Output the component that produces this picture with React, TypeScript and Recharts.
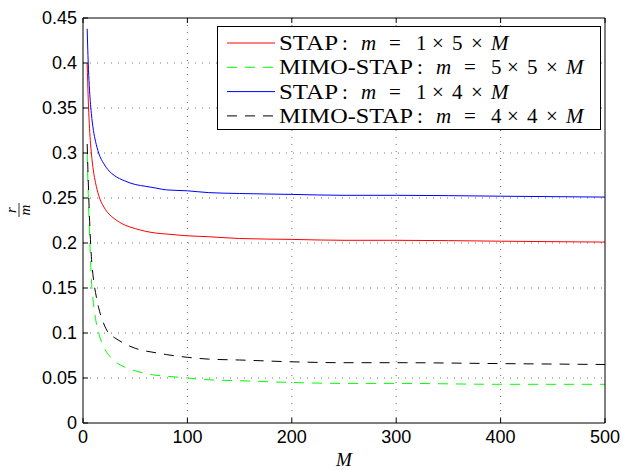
import {
  LineChart,
  Line,
  XAxis,
  YAxis,
  CartesianGrid,
  Legend,
} from "recharts";

// problem size M
const mValues = [4, 5, 6, 8, 10, 12, 15, 20, 25, 30, 40, 50, 60, 70, 80, 100, 120, 150, 200, 250, 300, 400, 500];

// r/m
const stap5 = [0.4, 0.36, 0.333, 0.3, 0.28, 0.267, 0.253, 0.24, 0.232, 0.227, 0.22, 0.216, 0.213, 0.211, 0.21, 0.208, 0.207, 0.205, 0.204, 0.203, 0.203, 0.202, 0.201];
const mimo5 = [0.3, 0.255, 0.22, 0.16, 0.133, 0.116, 0.1, 0.084, 0.075, 0.069, 0.062, 0.058, 0.055, 0.053, 0.052, 0.05, 0.048, 0.047, 0.045, 0.044, 0.044, 0.043, 0.043];
const stap4 = [0.438, 0.4, 0.375, 0.344, 0.325, 0.313, 0.3, 0.288, 0.28, 0.275, 0.269, 0.265, 0.263, 0.261, 0.259, 0.258, 0.256, 0.255, 0.254, 0.253, 0.253, 0.252, 0.251];
const mimo4 = [0.31, 0.27, 0.235, 0.185, 0.16, 0.145, 0.128, 0.11, 0.099, 0.095, 0.088, 0.083, 0.08, 0.078, 0.076, 0.073, 0.071, 0.07, 0.068, 0.067, 0.067, 0.066, 0.065];

const xTicks = [0, 100, 200, 300, 400, 500];
const yTicks = [0, 0.05, 0.1, 0.15, 0.2, 0.25, 0.3, 0.35, 0.4, 0.45];

const series = [
  { key: "stap5", color: "#ff0000", dash: undefined, label: "STAP", labelW: 59, d1: "1", d2: "5" },
  { key: "mimo5", color: "#00ff00", dash: "10 8", label: "MIMO-STAP", labelW: 134, d1: "5", d2: "5" },
  { key: "stap4", color: "#0000ff", dash: undefined, label: "STAP", labelW: 59, d1: "1", d2: "4" },
  { key: "mimo4", color: "#000000", dash: "10 8", label: "MIMO-STAP", labelW: 134, d1: "4", d2: "4" },
];

const data = mValues.map((M, i) => ({
  M,
  stap5: stap5[i],
  mimo5: mimo5[i],
  stap4: stap4[i],
  mimo4: mimo4[i],
}));

const tickFont = { fontSize: 18, fill: "#000", fontFamily: "'Liberation Sans', Arial, sans-serif" };
const serif = "'Liberation Serif', 'Times New Roman', serif";

function LegendBox() {
  return (
    <svg width={384} height={104} style={{ display: "block" }}>
      <rect x={0.5} y={0.5} width={383} height={103} fill="#fff" stroke="#000" />
      {series.map((s, i) => {
        const cy = 17 + i * 24.3;
        const x0 = 62;
        const e = x0 + s.labelW;
        return (
          <g key={s.key} fontFamily={serif} fontSize={21} fill="#000">
            <line x1={10} x2={58} y1={cy} y2={cy} stroke={s.color} strokeWidth={1} strokeDasharray={s.dash} />
            <text x={x0} y={cy + 7} textLength={s.labelW} lengthAdjust="spacingAndGlyphs">{s.label}</text>
            <text x={e + 4} y={cy + 7}>:</text>
            <text x={e + 23} y={cy + 7} fontStyle="italic">m</text>
            <text x={e + 51} y={cy + 7}>=</text>
            <text x={e + 78} y={cy + 7}>{s.d1}</text>
            <text x={e + 94} y={cy + 7}>×</text>
            <text x={e + 114} y={cy + 7}>{s.d2}</text>
            <text x={e + 133} y={cy + 7}>×</text>
            <text x={e + 153} y={cy + 7} fontStyle="italic">M</text>
          </g>
        );
      })}
    </svg>
  );
}

function YLabel() {
  return (
    <g transform="translate(19,210) rotate(-90)" fontFamily={serif} fontStyle="italic" fontSize={15}>
      <text x={0} y={-3} textAnchor="middle">r</text>
      <line x1={-7} x2={7} y1={0} y2={0} stroke="#000" strokeWidth={0.8} />
      <text x={0} y={11} textAnchor="middle">m</text>
    </g>
  );
}

const noTick = () => <g />;

export default function App() {
  return (
    <div style={{ position: "absolute", left: 0, top: 0, width: 622, height: 470, background: "#fff" }}>
      <LineChart width={622} height={470} data={data} margin={{ top: 17, right: 16, left: 0, bottom: 0 }}>
        <CartesianGrid
          xAxisId="b"
          yAxisId="l"
          stroke="#777"
          strokeDasharray="1 6"
          horizontalValues={yTicks.slice(1, -1)}
          verticalValues={xTicks.slice(1, -1)}
        />
        <XAxis
          xAxisId="b"
          dataKey="M"
          type="number"
          domain={[0, 500]}
          ticks={xTicks}
          height={47}
          tickSize={-5}
          tickMargin={12}
          tick={tickFont}
          axisLine={{ stroke: "#000" }}
          tickLine={{ stroke: "#000" }}
          label={{ value: "M", position: "insideBottom", offset: 4, fontFamily: serif, fontStyle: "italic", fontSize: 19, fill: "#000" }}
        />
        <XAxis
          xAxisId="t"
          orientation="top"
          dataKey="M"
          type="number"
          domain={[0, 500]}
          ticks={xTicks}
          height={1}
          tickSize={-5}
          tick={noTick}
          axisLine={{ stroke: "#000" }}
          tickLine={{ stroke: "#000" }}
        />
        <YAxis
          yAxisId="l"
          type="number"
          domain={[0, 0.45]}
          ticks={yTicks}
          width={83}
          tickSize={-5}
          tickMargin={11}
          tick={tickFont}
          tickFormatter={(v: number) => String(+v.toFixed(2))}
          axisLine={{ stroke: "#000" }}
          tickLine={{ stroke: "#000" }}
          label={{ content: () => <YLabel /> }}
        />
        <YAxis
          yAxisId="r"
          orientation="right"
          type="number"
          domain={[0, 0.45]}
          ticks={yTicks}
          width={1}
          tickSize={-5}
          tick={noTick}
          axisLine={{ stroke: "#000" }}
          tickLine={{ stroke: "#000" }}
        />
        <Legend
          layout="horizontal"
          align="center"
          verticalAlign="middle"
          content={() => <LegendBox />}
          wrapperStyle={{ left: 217, top: 26, width: 384, height: 104, bottom: "auto" }}
        />
        {series.map((s) => (
          <Line
            key={s.key}
            xAxisId="b"
            yAxisId="l"
            type="monotone"
            dataKey={s.key}
            stroke={s.color}
            strokeWidth={1}
            strokeDasharray={s.dash}
            dot={false}
            isAnimationActive={false}
          />
        ))}
      </LineChart>
    </div>
  );
}
